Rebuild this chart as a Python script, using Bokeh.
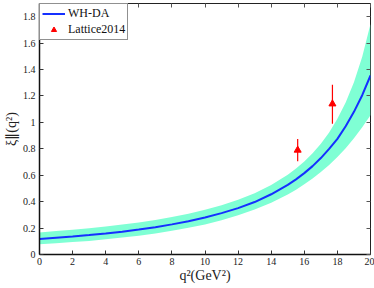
from bokeh.plotting import figure
from bokeh.models import (LinearAxis, Range1d, FixedTicker, Legend, LegendItem,
                          CustomJSTickFormatter)
from bokeh.embed import file_html
from bokeh.resources import INLINE

# WH-DA curve (centre) and its uncertainty band
q2 = [0, 1, 2, 3, 4, 5, 6, 7, 8, 9, 10, 11, 12, 13, 14, 15, 15.5, 16, 16.5,
      17, 17.5, 18, 18.5, 19, 19.5, 20]
xi_center = [0.118, 0.127, 0.136, 0.147, 0.159, 0.172, 0.189, 0.207, 0.228,
             0.252, 0.28, 0.313, 0.351, 0.397, 0.456, 0.527, 0.569, 0.616,
             0.669, 0.73, 0.799, 0.875, 0.971, 1.08, 1.206, 1.355]
xi_upper = [0.167, 0.177, 0.187, 0.199, 0.212, 0.227, 0.243, 0.262, 0.284,
            0.309, 0.338, 0.373, 0.414, 0.464, 0.526, 0.604, 0.651, 0.704,
            0.767, 0.839, 0.924, 1.027, 1.15, 1.304, 1.497, 1.745]
xi_lower = [0.077, 0.085, 0.094, 0.103, 0.115, 0.128, 0.142, 0.159, 0.179,
            0.202, 0.228, 0.26, 0.297, 0.34, 0.392, 0.455, 0.491, 0.531,
            0.575, 0.624, 0.678, 0.738, 0.805, 0.88, 0.963, 1.055]

# Lattice2014 points
lat_q2 = [15.6, 17.7]
lat_xi = [0.79, 1.14]
lat_lo = [0.705, 0.99]
lat_hi = [0.875, 1.285]

x_ticks = [0, 2, 4, 6, 8, 10, 12, 14, 16, 18, 20]
y_ticks = [0, 0.2, 0.4, 0.6, 0.8, 1.0, 1.2, 1.4, 1.6, 1.8]

x_title = "q²(GeV²)"
y_title = "ξ∥(q²)"

FONT = "Liberation Serif"

p = figure(frame_width=331, frame_height=251, x_range=Range1d(0, 20),
           y_range=Range1d(0, 1.9), output_backend="svg", toolbar_location=None,
           min_border_left=31, min_border_right=4, min_border_top=3,
           min_border_bottom=0)
p.xgrid.visible = False
p.ygrid.visible = False
p.outline_line_color = "#222222"
p.outline_line_width = 1
p.background_fill_color = "white"
p.border_fill_color = "white"

fmt = CustomJSTickFormatter(code="return String(Math.round(tick*10)/10);")

for ax in (p.xaxis[0], p.yaxis[0]):
    ax.major_tick_in = 4
    ax.major_tick_out = 0
    ax.minor_tick_in = 0
    ax.minor_tick_out = 0
    ax.axis_line_color = "#111111"
    ax.axis_line_width = 1.5
    ax.major_tick_line_color = "#333333"
    ax.major_label_text_font = FONT
    ax.major_label_text_font_size = "10px"
    ax.major_label_text_color = "#222222"
    ax.axis_label_text_font = FONT
    ax.axis_label_text_font_size = "14px"
    ax.axis_label_text_font_style = "normal"
    ax.axis_label_text_color = "#222222"
    ax.formatter = fmt

p.xaxis[0].ticker = FixedTicker(ticks=x_ticks)
p.yaxis[0].ticker = FixedTicker(ticks=y_ticks)
p.xaxis[0].axis_label = x_title
p.yaxis[0].axis_label = y_title
p.xaxis[0].major_label_standoff = 3
p.xaxis[0].axis_label_standoff = 0
p.yaxis[0].major_label_standoff = 4
p.yaxis[0].axis_label_standoff = 1

top = LinearAxis(ticker=FixedTicker(ticks=x_ticks))
right = LinearAxis(ticker=FixedTicker(ticks=y_ticks))
for ax in (top, right):
    ax.major_tick_in = 4
    ax.major_tick_out = 0
    ax.minor_tick_in = 0
    ax.minor_tick_out = 0
    ax.axis_line_color = None
    ax.major_tick_line_color = "#555555"
    ax.major_label_text_color = None
    ax.major_label_text_font_size = "1px"
    ax.major_label_standoff = 0
p.add_layout(top, "above")
p.add_layout(right, "right")

p.varea(x=q2, y1=xi_lower, y2=xi_upper, fill_color="#7FFFD4", fill_alpha=1.0)
line_r = p.line(q2, xi_center, line_color="#1530ff", line_width=2)

p.segment(x0=lat_q2, y0=lat_lo, x1=lat_q2, y1=lat_hi, line_color="red", line_width=1.2)
pts_r = p.scatter(lat_q2, lat_xi, marker="triangle", size=7, fill_color="red",
                  line_color="red")

legend = Legend(items=[LegendItem(label="WH-DA", renderers=[line_r]),
                       LegendItem(label="Lattice2014", renderers=[pts_r])],
                location="top_left")
legend.margin = 0
legend.padding = 2
legend.spacing = 1
legend.glyph_width = 23
legend.glyph_height = 13
legend.label_height = 13
legend.label_standoff = 3
legend.label_text_font = FONT
legend.label_text_font_size = "12px"
legend.label_text_color = "#111111"
legend.border_line_color = "#222222"
legend.border_line_width = 1
legend.background_fill_color = "white"
legend.background_fill_alpha = 1.0
p.add_layout(legend)

open("out.html", "w").write(file_html(p, INLINE))
